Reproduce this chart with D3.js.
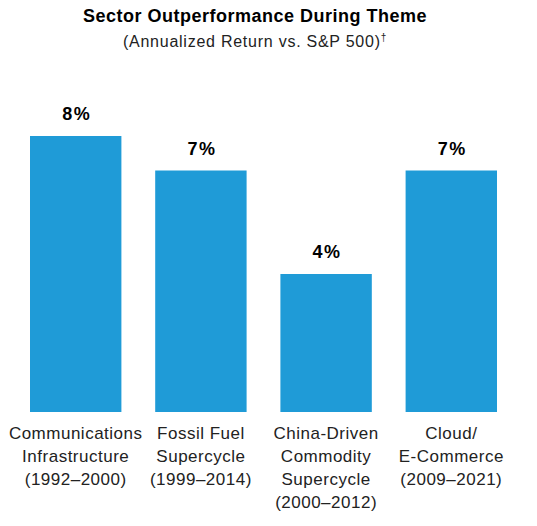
<!DOCTYPE html>
<html><head><meta charset="utf-8">
<script src="https://cdn.jsdelivr.net/npm/d3@7"></script>
<style>body{margin:0;background:#fff;}svg{display:block;font-family:"Liberation Sans",Arial,sans-serif;}</style>
</head><body>
<script>
const categories = [
  ["Communications","Infrastructure","(1992\u20132000)"],
  ["Fossil Fuel","Supercycle","(1999\u20132014)"],
  ["China-Driven","Commodity","Supercycle","(2000\u20132012)"],
  ["Cloud/","E-Commerce","(2009\u20132021)"]
];
const values = [8, 7, 4, 7];
const valueLabels = ["8%", "7%", "4%", "7%"];
const title = "Sector Outperformance During Theme";
const subtitle = "(Annualized Return vs. S&P 500)";

const W = 537, H = 526;
const svg = d3.select("body").append("svg").attr("width", W).attr("height", H);

const x = d3.scaleBand().domain(d3.range(values.length)).range([30, 497]).paddingInner(0.27).paddingOuter(0);
const y = d3.scaleLinear().domain([0, 8]).range([412, 136]);

svg.append("text").attr("x", 255).attr("y", 22).attr("text-anchor", "middle")
  .attr("font-weight", "bold").attr("font-size", 18).attr("letter-spacing", 0.5)
  .attr("fill", "#000").text(title);
const st = svg.append("text").attr("x", 255).attr("y", 47).attr("text-anchor", "middle")
  .attr("font-size", 16).attr("letter-spacing", 0.75).attr("fill", "#222");
st.append("tspan").text(subtitle);
st.append("tspan").attr("font-size", 10).attr("dy", -6).text("\u2020");

svg.selectAll("rect.bar").data(values).join("rect").attr("class", "bar")
  .attr("x", (d, i) => x(i)).attr("width", x.bandwidth())
  .attr("y", d => y(d)).attr("height", d => y(0) - y(d))
  .attr("fill", "#1F9BD7");

svg.selectAll("text.val").data(values).join("text").attr("class", "val")
  .attr("x", (d, i) => x(i) + x.bandwidth() / 2 + 1).attr("y", d => y(d) - 16)
  .attr("text-anchor", "middle").attr("font-weight", "bold").attr("font-size", 18)
  .attr("letter-spacing", 1.5).attr("fill", "#000").text((d, i) => valueLabels[i]);

const lab = svg.selectAll("text.cat").data(categories).join("text").attr("class", "cat")
  .attr("text-anchor", "middle").attr("font-size", 17).attr("letter-spacing", 0.5).attr("fill", "#222");
lab.each(function(lines, i) {
  const t = d3.select(this);
  lines.forEach((l, j) => {
    t.append("tspan").attr("x", x(i) + x.bandwidth() / 2).attr("y", 439 + j * 23).text(l);
  });
});
</script>
</body></html>
